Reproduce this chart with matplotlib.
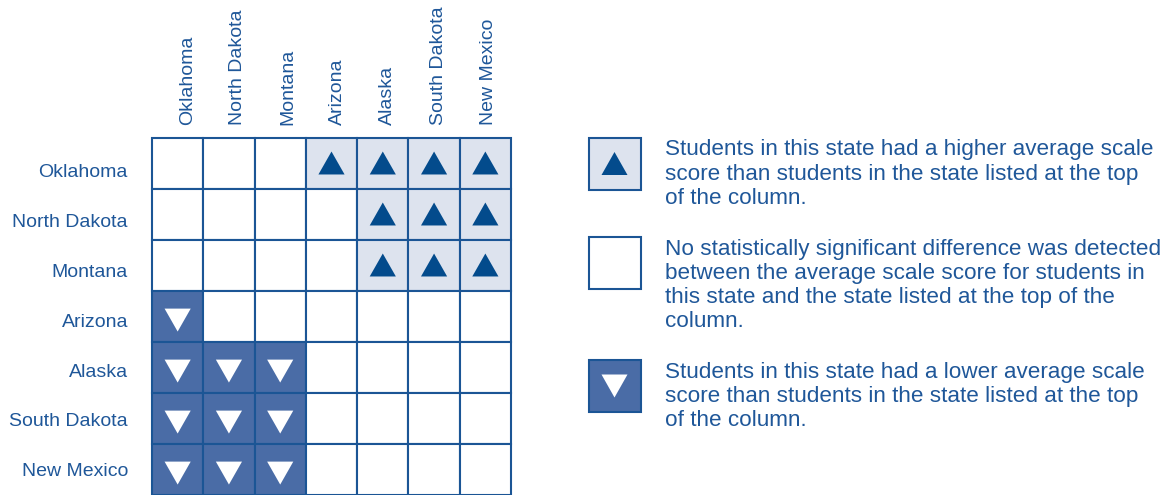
import matplotlib
matplotlib.use("Agg")
import matplotlib.pyplot as plt
from matplotlib.patches import Rectangle, Polygon
from matplotlib.transforms import ScaledTranslation
import numpy as np

# ---------------- data ----------------
states = ["Oklahoma", "North Dakota", "Montana", "Arizona",
          "Alaska", "South Dakota", "New Mexico"]
# 1 = row state higher than column state, -1 = lower, 0 = no significant difference
row_oklahoma = [0, 0, 0, 1, 1, 1, 1]
row_north_dakota = [0, 0, 0, 0, 1, 1, 1]
row_montana = [0, 0, 0, 0, 1, 1, 1]
row_arizona = [-1, 0, 0, 0, 0, 0, 0]
row_alaska = [-1, -1, -1, 0, 0, 0, 0]
row_south_dakota = [-1, -1, -1, 0, 0, 0, 0]
row_new_mexico = [-1, -1, -1, 0, 0, 0, 0]
legend_texts = [
    "Students in this state had a higher average scale\nscore than students in the state listed at the top\nof the column.",
    "No statistically significant difference was detected\nbetween the average scale score for students in\nthis state and the state listed at the top of the\ncolumn.",
    "Students in this state had a lower average scale\nscore than students in the state listed at the top\nof the column.",
]
legend_codes = [1, 0, -1]

matrix = np.array([row_oklahoma, row_north_dakota, row_montana, row_arizona,
                   row_alaska, row_south_dakota, row_new_mexico])

# ---------------- style ----------------
W, H = 1168, 495
TEXT = "#1f5799"
LINE = "#1b5595"
LIGHT = "#dde3ee"
DARK = "#4a6ca6"
TRI_DARK = "#034b8c"
FONT = ["Liberation Sans", "DejaVu Sans"]
FS_LABEL = 14.0
FS_LEGEND = 16.2

plt.rcParams['font.family'] = FONT

fig = plt.figure(figsize=(W / 100, H / 100), dpi=100)

n = len(states)
# grid axes
gx0, gx1, gy0, gy1 = 152, 511, 137.5, 494.5
ax = fig.add_axes([gx0 / W, 1 - gy1 / H, (gx1 - gx0) / W, (gy1 - gy0) / H])
ax.set_xlim(0, n)
ax.set_ylim(n, 0)
ax.axis("off")

fill = {1: LIGHT, 0: "white", -1: DARK}
tw, th = 0.51, 0.45  # triangle size relative to a cell

for i in range(n):
    for j in range(n):
        v = matrix[i, j]
        ax.add_patch(Rectangle((j, i), 1, 1, facecolor=fill[v], edgecolor=LINE,
                               linewidth=1.5, clip_on=False))
        cx, cy = j + 0.5, i + 0.5
        if v == 1:
            ax.add_patch(Polygon([(cx - tw / 2, cy + th / 2), (cx + tw / 2, cy + th / 2),
                                  (cx, cy - th / 2)], closed=True, facecolor=TRI_DARK,
                                 edgecolor="none"))
        elif v == -1:
            cy2 = cy + 0.08
            ax.add_patch(Polygon([(cx - tw / 2, cy2 - th / 2), (cx + tw / 2, cy2 - th / 2),
                                  (cx, cy2 + th / 2)], closed=True, facecolor="white",
                                 edgecolor="none"))

# label pitch is slightly smaller than the cell pitch in the original
lab_step, lab_first = 0.977, 0.78
# row labels
for i, s in enumerate(states):
    ax.text(-0.468, lab_first + lab_step * i, s, ha="right", va="baseline",
            fontsize=FS_LABEL, color=TEXT)
# column labels
for j, s in enumerate(states):
    tr = ax.transData + ScaledTranslation(0, 12.5 / 100, fig.dpi_scale_trans)
    ax.text(lab_first + lab_step * j, 0, s, transform=tr, ha="left", va="baseline",
            rotation=90, rotation_mode="anchor", fontsize=FS_LABEL, color=TEXT)

# legend in pixel coordinates
lax = fig.add_axes([0, 0, 1, 1])
lax.set_xlim(0, W)
lax.set_ylim(H, 0)
lax.axis("off")
box_tops = [137.5, 236.5, 360]
bw, bh = 52, 52
for top, code, txt in zip(box_tops, legend_codes, legend_texts):
    bx = 588.5
    lax.add_patch(Rectangle((bx, top), bw, bh, facecolor=fill[code], edgecolor=LINE,
                            linewidth=1.5))
    cx, cy = bx + bw / 2, top + bh / 2
    if code == 1:
        lax.add_patch(Polygon([(cx - 13, cy + 11.5), (cx + 13, cy + 11.5), (cx, cy - 11.5)],
                              closed=True, facecolor=TRI_DARK, edgecolor="none"))
    elif code == -1:
        lax.add_patch(Polygon([(cx - 13, cy - 11.5), (cx + 13, cy - 11.5), (cx, cy + 11.5)],
                              closed=True, facecolor="white", edgecolor="none"))
    lax.text(665, top + 2, txt, ha="left", va="top", fontsize=FS_LEGEND, color=TEXT,
             linespacing=1.19)

fig.savefig("out.png", dpi=100)
